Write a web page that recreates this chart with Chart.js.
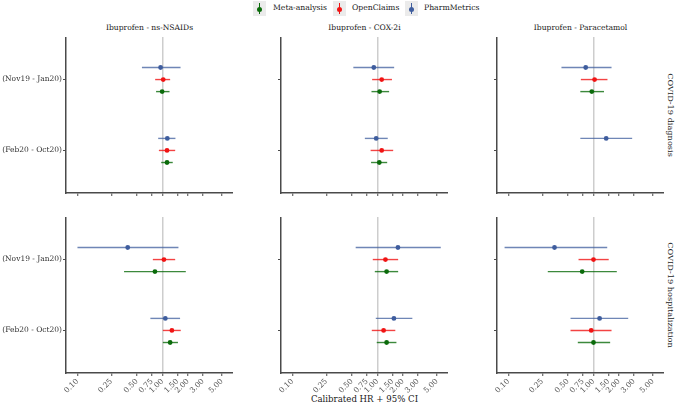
<!DOCTYPE html>
<html>
<head>
<meta charset="utf-8">
<script src="https://cdn.jsdelivr.net/npm/chart.js@4.4.1/dist/chart.umd.min.js"></script>
<style>
  html, body { margin:0; padding:0; background:#fff; }
  #wrap { position:relative; width:676px; height:405px; overflow:hidden; font-family:'DejaVu Serif', serif; color:#1a1a1a; }
  canvas { position:absolute; }
  .title { position:absolute; font-size:7.6px; text-align:center; white-space:nowrap; }
  .strip { position:absolute; font-size:8.2px; writing-mode:vertical-rl; white-space:nowrap; transform:translate(-50%,-50%); }
  .legend { position:absolute; top:0; left:0; width:676px; height:17px; font-size:7.7px; }
  .key { position:absolute; top:1px; width:13px; height:15px; background:#ebebeb; }
  .key .v { position:absolute; left:6px; top:2px; width:1.3px; height:11px; }
  .key .d { position:absolute; left:4px; top:5.5px; width:5px; height:5px; border-radius:50%; }
  .ltxt { position:absolute; top:3px; white-space:nowrap; }
</style>
</head>
<body>
<div id="wrap">
  <div class="legend" id="legend"></div>
</div>
<script>
// ---------------- DATA ----------------
const comparisons = ['Ibuprofen - ns-NSAIDs', 'Ibuprofen - COX-2i', 'Ibuprofen - Paracetamol'];
const outcomes = ['COVID-19 diagnosis', 'COVID-19 hospitalization'];
const periods = ['(Nov19 - Jan20)', '(Feb20 - Oct20)'];
const sources = ['Meta-analysis', 'OpenClaims', 'PharmMetrics'];
const xTicks = [0.10, 0.25, 0.50, 0.75, 1.00, 1.50, 2.00, 3.00, 5.00];

// indexed [outcome][comparison][period]
const metaHR  = [[[0.99, 1.13], [1.06, 1.05], [0.955, null]], [[0.815, 1.23], [1.28, 1.28], [0.736, 1.00]]];
const metaLo  = [[[0.84, 0.965], [0.85, 0.84], [0.70, null]], [[0.353, 1.01], [0.93, 0.98], [0.29, 0.654]]];
const metaHi  = [[[1.21, 1.32], [1.37, 1.30], [1.33, null]], [[1.88, 1.52], [1.75, 1.67], [1.88, 1.57]]];

const openHR  = [[[1.02, 1.13], [1.12, 1.12], [1.03, null]], [[1.04, 1.29], [1.24, 1.18], [1.00, 0.94]]];
const openLo  = [[[0.82, 0.907], [0.865, 0.83], [0.71, null]], [[0.77, 1.01], [0.88, 0.857], [0.667, 0.537]]];
const openHi  = [[[1.23, 1.41], [1.48, 1.53], [1.46, null]], [[1.41, 1.64], [1.75, 1.62], [1.51, 1.63]]];

const pharmHR = [[[0.95, 1.14], [0.905, 0.965], [0.81, 1.41]], [[0.39, 1.08], [1.74, 1.56], [0.348, 1.18]]];
const pharmLo = [[[0.573, 0.89], [0.52, 0.71], [0.42, 0.70]], [[0.10, 0.72], [0.554, 0.955], [0.09, 0.537]]];
const pharmHi = [[[1.63, 1.42], [1.57, 1.32], [1.63, 2.85]], [[1.54, 1.61], [5.55, 2.57], [1.45, 2.56]]];

// ---------------- STYLE / LAYOUT ----------------
const colors = { 'Meta-analysis': '#0b6b0b', 'OpenClaims': '#f01414', 'PharmMetrics': '#3f5d9e' };
const ciColors = { 'Meta-analysis': 'rgba(11,107,11,0.8)', 'OpenClaims': 'rgba(240,20,20,0.8)', 'PharmMetrics': 'rgba(63,93,158,0.75)' };
const dodge = { 'Meta-analysis': -0.17, 'OpenClaims': 0, 'PharmMetrics': 0.17 };
const periodPos = [2, 1];
const seriesData = {
  'Meta-analysis': [metaHR, metaLo, metaHi],
  'OpenClaims': [openHR, openLo, openHi],
  'PharmMetrics': [pharmHR, pharmLo, pharmHi]
};

const plotL = [66, 281, 497], plotR = [233, 448, 664];
const plotT = [37, 217], plotB = [193, 373];
const XMIN = 0.0733, XMAX = 6.75;
const AX = '#4a4a4a';
const FONT = { family: 'DejaVu Serif', size: 7.5 };

const wrap = document.getElementById('wrap');

function addDiv(cls, text, style) {
  const d = document.createElement('div');
  d.className = cls; d.textContent = text;
  Object.assign(d.style, style);
  wrap.appendChild(d);
  return d;
}

// titles
comparisons.forEach((c, i) => {
  addDiv('title', c, { left: plotL[i] + 'px', width: (plotR[i] - plotL[i]) + 'px', top: '23px' });
});
// strips
outcomes.forEach((o, r) => {
  addDiv('strip', o, { left: '671px', top: ((plotT[r] + plotB[r]) / 2) + 'px' });
});
// axis title
addDiv('title', 'Calibrated HR + 95% CI', { left: '281px', width: '167px', top: '394px', fontSize: '8.6px' });

// legend
const legend = document.getElementById('legend');
const legPos = [{ key: 253, txt: 273 }, { key: 333, txt: 352 }, { key: 405, txt: 424 }];
sources.forEach((s, i) => {
  const k = document.createElement('div'); k.className = 'key'; k.style.left = legPos[i].key + 'px';
  const v = document.createElement('div'); v.className = 'v'; v.style.background = colors[s];
  const d = document.createElement('div'); d.className = 'd'; d.style.background = colors[s];
  k.appendChild(v); k.appendChild(d); legend.appendChild(k);
  const t = document.createElement('div'); t.className = 'ltxt'; t.textContent = s; t.style.left = legPos[i].txt + 'px';
  legend.appendChild(t);
});

function makePanel(r, c) {
  const yw = c === 0 ? 66 : 6;
  const xh = r === 1 ? 30 : 4;
  const left = plotL[c] - yw;
  const top = plotT[r];
  const w = plotR[c] - left;
  const h = plotB[r] - top + xh;
  const cv = document.createElement('canvas');
  cv.width = w; cv.height = h;
  cv.style.left = left + 'px'; cv.style.top = top + 'px';
  cv.style.width = w + 'px'; cv.style.height = h + 'px';
  wrap.appendChild(cv);

  const datasets = [];
  sources.forEach(s => {
    const [hr, lo, hi] = seriesData[s];
    periods.forEach((p, pi) => {
      const l = lo[r][c][pi], u = hi[r][c][pi];
      if (l == null || u == null) return;
      const y = periodPos[pi] + dodge[s];
      datasets.push({
        type: 'line', data: [{ x: l, y: y }, { x: u, y: y }],
        borderColor: ciColors[s], borderWidth: 1.4, pointRadius: 0, fill: false
      });
    });
  });
  sources.forEach(s => {
    const [hr] = seriesData[s];
    const pts = [];
    periods.forEach((p, pi) => {
      const v = hr[r][c][pi];
      if (v == null) return;
      pts.push({ x: v, y: periodPos[pi] + dodge[s] });
    });
    datasets.push({
      type: 'scatter', data: pts, pointRadius: 2.4, pointBorderWidth: 0,
      backgroundColor: colors[s], borderColor: colors[s]
    });
  });

  new Chart(cv.getContext('2d'), {
    type: 'scatter',
    data: { datasets },
    options: {
      responsive: false, maintainAspectRatio: false, animation: false, devicePixelRatio: 1,
      layout: { padding: 0, autoPadding: false },
      plugins: { legend: { display: false }, tooltip: { enabled: false } },
      scales: {
        x: {
          type: 'logarithmic', min: XMIN, max: XMAX,
          afterBuildTicks: s => { s.ticks = xTicks.map(v => ({ value: v })); },
          afterFit: s => { s.height = xh; s.paddingLeft = 0; s.paddingRight = 0; s.paddingTop = 0; s.paddingBottom = 0; },
          ticks: {
            display: r === 1, autoSkip: false, minRotation: 45, maxRotation: 45,
            callback: v => Number(v).toFixed(2), font: FONT, color: '#4d4d4d', padding: 1
          },
          grid: {
            color: ctx => (ctx.tick && Math.abs(ctx.tick.value - 1) < 1e-9) ? '#cdcdcd' : 'rgba(0,0,0,0)',
            lineWidth: 1.5, drawTicks: true, tickLength: 3, tickColor: AX, tickWidth: 1
          },
          border: { display: true, color: AX, width: 1.5 }
        },
        y: {
          type: 'linear', min: 0.4, max: 2.6,
          afterBuildTicks: s => { s.ticks = periodPos.map(v => ({ value: v })); },
          afterFit: s => { s.width = yw; s.paddingLeft = 0; s.paddingRight = 0; s.paddingTop = 0; s.paddingBottom = 0; },
          ticks: {
            display: c === 0, autoSkip: false,
            callback: v => periods[periodPos.indexOf(v)], font: FONT, color: '#333', padding: 1
          },
          grid: { drawOnChartArea: false, drawTicks: true, tickLength: 3, tickColor: AX, color: 'rgba(0,0,0,0)' },
          border: { display: true, color: AX, width: 1.5 }
        }
      }
    }
  });
}

for (let r = 0; r < 2; r++) for (let c = 0; c < 3; c++) makePanel(r, c);
</script>
</body>
</html>
